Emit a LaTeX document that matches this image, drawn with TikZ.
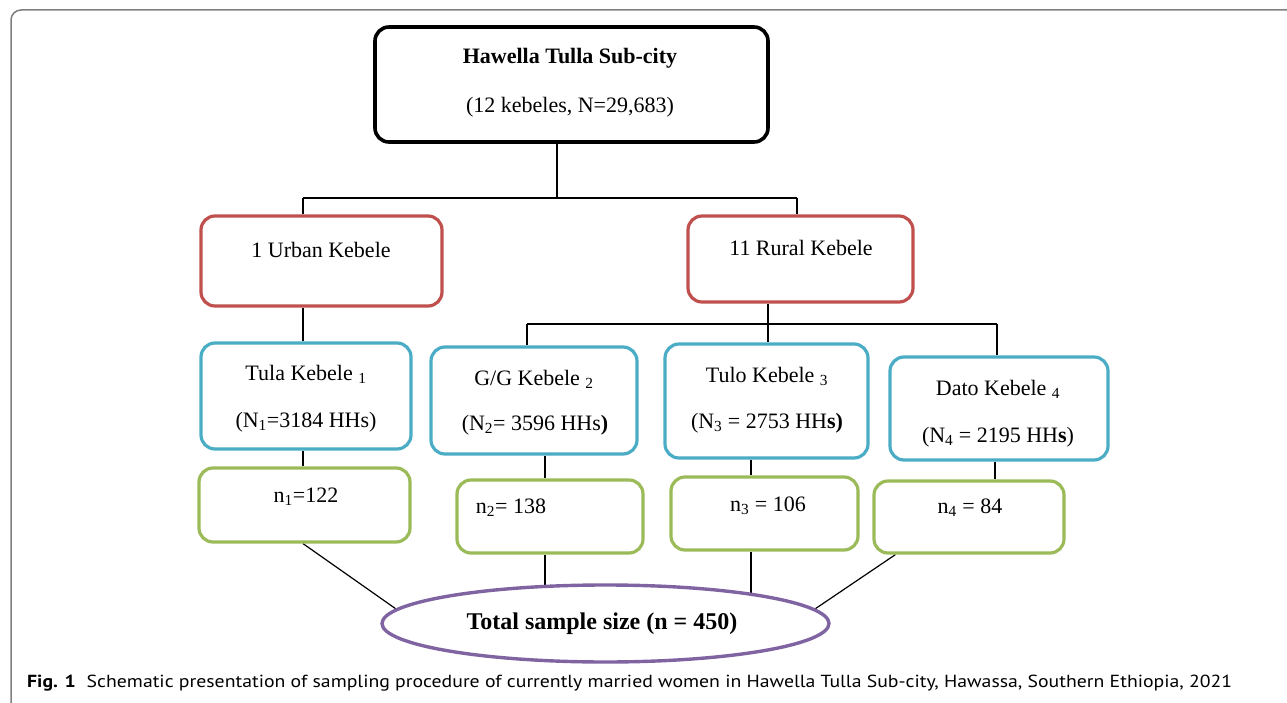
\documentclass[tikz,border=0pt]{standalone}
\usepackage{fontspec}
\usepackage{graphicx}
\setmainfont{Liberation Serif}
\newfontfamily\capfont{PT Sans}
\usetikzlibrary{shapes.geometric,calc,backgrounds}
\definecolor{boxred}{HTML}{C0504D}
\definecolor{boxblue}{HTML}{4BACC6}
\definecolor{boxgreen}{HTML}{9BBB59}
\definecolor{boxpurple}{HTML}{8064A2}
\definecolor{framegray}{HTML}{7F7F7F}
\begin{document}
\begin{tikzpicture}[x=1pt,y=-1pt,
  rbox/.style={draw, rounded corners=14pt, line width=3.2pt, fill=white, inner sep=0pt},
  blackbox/.style={rbox, draw=black, line width=3.6pt},
  redbox/.style={rbox, draw=boxred},
  bluebox/.style={rbox, draw=boxblue},
  greenbox/.style={rbox, draw=boxgreen},
  txt/.style={anchor=base, inner sep=0pt, font=\fontsize{22}{26}\selectfont},
  btxt/.style={txt, font=\fontsize{22}{26}\selectfont\bfseries},
  conn/.style={draw=black, line width=1.2pt}
]
\useasboundingbox (0,0) rectangle (1287,703);
% frame
\draw[framegray, line width=1.5pt, rounded corners=10pt] (1295,10) -- (11,10) -- (11,712);

% boxes
\node[blackbox, minimum width=393pt, minimum height=115pt] (top) at (571.5,84.5) {};
\node[redbox, minimum width=241pt, minimum height=90pt] (urban) at (321.5,261) {};
\node[redbox, minimum width=225pt, minimum height=86pt] (rural) at (800.5,259) {};
\node[bluebox, minimum width=210pt, minimum height=106pt] (tula) at (306,396) {};
\node[bluebox, minimum width=206pt, minimum height=107pt] (gg) at (534,400.5) {};
\node[bluebox, minimum width=203pt, minimum height=114pt] (tulo) at (766.5,401) {};
\node[bluebox, minimum width=218pt, minimum height=103pt] (dato) at (999,408.5) {};
\node[greenbox, minimum width=211pt, minimum height=74pt] (n1) at (304.5,505) {};
\node[greenbox, minimum width=186pt, minimum height=73pt] (n2) at (550,516.5) {};
\node[greenbox, minimum width=187pt, minimum height=73pt] (n3) at (764.5,513.5) {};
\node[greenbox, minimum width=190pt, minimum height=72pt] (n4) at (969,517) {};
\node[ellipse, draw=boxpurple, line width=3.4pt, fill=white, inner sep=0pt,
      minimum width=447pt, minimum height=77pt] (total) at (605.5,623.5) {};

% texts
\node[btxt] (topa) at (570,64) {Hawella Tulla Sub-city};
\node[txt] (topb) at (570,113) {(12 kebeles, N=29,683)};
\node[txt] (urbant) at (321,258) {1 Urban Kebele};
\node[txt] (ruralt) at (801,256) {11 Rural Kebele};
\node[txt] (tulaa) at (306,380) {Tula Kebele \textsubscript{1}};
\node[txt] (tulab) at (306,427) {(N\textsubscript{1}=3184 HHs)};
\node[txt] (gga) at (534,385) {G/G Kebele \textsubscript{2}};
\node[txt] (ggb) at (535,430) {(N\textsubscript{2}= 3596 HHs\textbf{)}};
\node[txt] (tuloa) at (767,382) {Tulo Kebele \textsubscript{3}};
\node[txt] (tulob) at (767,428) {(N\textsubscript{3} = 2753 HH\textbf{s)}};
\node[txt] (datoa) at (998,395) {Dato Kebele \textsubscript{4}};
\node[txt] (datob) at (998,442) {(N\textsubscript{4} = 2195 HH\textbf{s})};
\node[txt] (n1t) at (306,502) {n\textsubscript{1}=122};
\node[txt] (n2t) at (511,513) {n\textsubscript{2}= 138};
\node[txt] (n3t) at (768,511) {n\textsubscript{3} = 106};
\node[txt] (n4t) at (970,513) {n\textsubscript{4} = 84};
\node[txt, font=\fontsize{24}{28}\selectfont\bfseries] (totalt) at (602,629) {Total sample size (n = 450)};

% caption
\node[anchor=base west, inner sep=0pt, font=\capfont\fontsize{17.5}{20}\selectfont] (cap) at (27,687)
  {\resizebox{1205pt}{\height}{\textbf{Fig. 1}\hspace{0.55em}Schematic presentation of sampling procedure of currently married women in Hawella Tulla Sub-city, Hawassa, Southern Ethiopia, 2021}};

% connectors
\coordinate (j1) at (557,198);
\coordinate (j1L) at (303,198);
\coordinate (j1R) at (797,198);
\coordinate (j2) at (768,324);
\coordinate (j2L) at (527,324);
\coordinate (j2R) at (997,324);
\coordinate (c2) at (545,470);
\coordinate (c3) at (751,470);
\coordinate (c4) at (995,470);
\begin{scope}[on background layer]
\draw[conn] (top.south -| j1) -- (j1);
\draw[conn] (j1L) -- (j1R);
\draw[conn] (j1L) -- (j1L |- urban.north);
\draw[conn] (j1R) -- (j1R |- rural.north);
\draw[conn] (j1L |- urban.south) -- (j1L |- tula.north);
\draw[conn] (rural.south -| j2) -- (j2);
\draw[conn] (j2L) -- (j2R);
\draw[conn] (j2L) -- (j2L |- gg.north);
\draw[conn] (j2) -- (j2 |- tulo.north);
\draw[conn] (j2R) -- (j2R |- dato.north);
\draw[conn] (tula.south -| j1L) -- (j1L |- n1.north);
\draw[conn] (gg.south -| c2) -- (c2 |- n2.north);
\draw[conn] (tulo.south -| c3) -- (c3 |- n3.north);
\draw[conn] (dato.south -| c4) -- (c4 |- n4.north);
\draw[conn] (n1.south -| j1L) -- (total.176);
\draw[conn] (n2.south -| c2) -- (c2 |- total.center);
\draw[conn] (n3.south -| c3) -- (c3 |- total.center);
\draw[conn] ($(n4.south west)+(23,0)$) -- (total.4);
\end{scope}
\end{tikzpicture}
\end{document}
